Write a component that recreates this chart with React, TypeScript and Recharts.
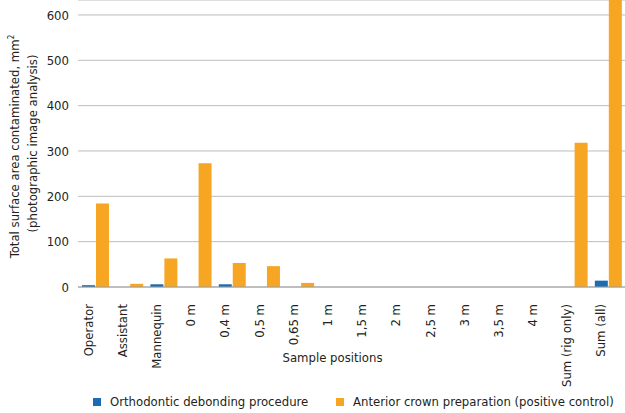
import { BarChart, Bar, CartesianGrid, XAxis, YAxis, Legend } from "recharts";

const categories = [
  "Operator",
  "Assistant",
  "Mannequin",
  "0 m",
  "0,4 m",
  "0,5 m",
  "0,65 m",
  "1 m",
  "1,5 m",
  "2 m",
  "2,5 m",
  "3 m",
  "3,5 m",
  "4 m",
  "Sum (rig only)",
  "Sum (all)",
];
const orthodontic = [4, 0, 6, 0, 6, 0, 0, 0, 0, 0, 0, 0, 0, 0, 0, 14];
const anterior = [184, 7, 63, 273, 53, 46, 9, 0, 0, 0, 0, 0, 0, 0, 318, 700];
const yTicks = [0, 100, 200, 300, 400, 500, 600];
const seriesNames = [
  "Orthodontic debonding procedure",
  "Anterior crown preparation (positive control)",
];

const data = categories.map((name, i) => ({
  name,
  ortho: orthodontic[i],
  anterior: anterior[i],
}));

const FONT = "'DejaVu Sans Condensed', 'Liberation Sans Narrow', sans-serif";
const TEXT = "#231f20";
const BLUE = "#1a6cb3";
const ORANGE = "#f6a622";

function XTick({ x, y, payload }: any) {
  return (
    <text
      x={0}
      y={0}
      transform={`translate(${x - 7},${y + 9}) rotate(-90)`}
      textAnchor="end"
      dy="0.35em"
      fontSize={13}
      fontFamily={FONT}
      fill={TEXT}
    >
      {payload.value}
    </text>
  );
}

function YLabel({ viewBox }: any) {
  const cy = viewBox.y + viewBox.height / 2;
  return (
    <g fontFamily={FONT} fontSize={13} fill={TEXT}>
      <text x={0} y={0} transform={`translate(19,${cy + 3}) rotate(-90)`} textAnchor="middle">
        Total surface area contaminated, mm<tspan dy={-5} fontSize={8}>2</tspan>
      </text>
      <text x={0} y={0} transform={`translate(37,${cy}) rotate(-90)`} textAnchor="middle">
        (photographic image analysis)
      </text>
    </g>
  );
}

function LegendBox() {
  const colors = [BLUE, ORANGE];
  const lefts = [93, 336];
  return (
    <div style={{ position: "relative", height: 22, fontFamily: FONT, fontSize: 13, color: TEXT }}>
      {seriesNames.map((s, i) => (
        <div key={s} style={{ position: "absolute", left: lefts[i], top: 3, display: "flex", alignItems: "center" }}>
          <span style={{ width: 8, height: 8, background: colors[i], marginRight: 9 }} />
          <span>{s}</span>
        </div>
      ))}
    </div>
  );
}

export default function App() {
  return (
    <div>
      <style>{"body{margin:0}"}</style>
      <BarChart
        width={625}
        height={413}
        data={data}
        margin={{ top: 0, right: 0, left: 0, bottom: 0 }}
        barSize={13}
        barGap={1}
      >
        <CartesianGrid vertical={false} stroke="#bdbdbd" />
        <XAxis
          dataKey="name"
          interval={0}
          height={104}
          tickLine={false}
          stroke="#9e9e9e"
          tick={<XTick />}
          label={{
            value: "Sample positions",
            position: "insideBottom",
            offset: 29,
            dx: -19,
            fontSize: 13,
            fontFamily: FONT,
            fill: TEXT,
          }}
        />
        <YAxis
          width={78}
          domain={[0, 633]}
          allowDataOverflow
          ticks={yTicks}
          axisLine={false}
          tickLine={false}
          tickSize={0}
          tickMargin={9}
          tick={{ fontSize: 13, fontFamily: FONT, fill: TEXT }}
          label={<YLabel />}
        />
        <Legend verticalAlign="bottom" wrapperStyle={{ bottom: 0, left: 0, width: 625 }} content={<LegendBox />} />
        <Bar dataKey="ortho" name={seriesNames[0]} fill={BLUE} isAnimationActive={false} />
        <Bar dataKey="anterior" name={seriesNames[1]} fill={ORANGE} isAnimationActive={false} />
      </BarChart>
    </div>
  );
}
